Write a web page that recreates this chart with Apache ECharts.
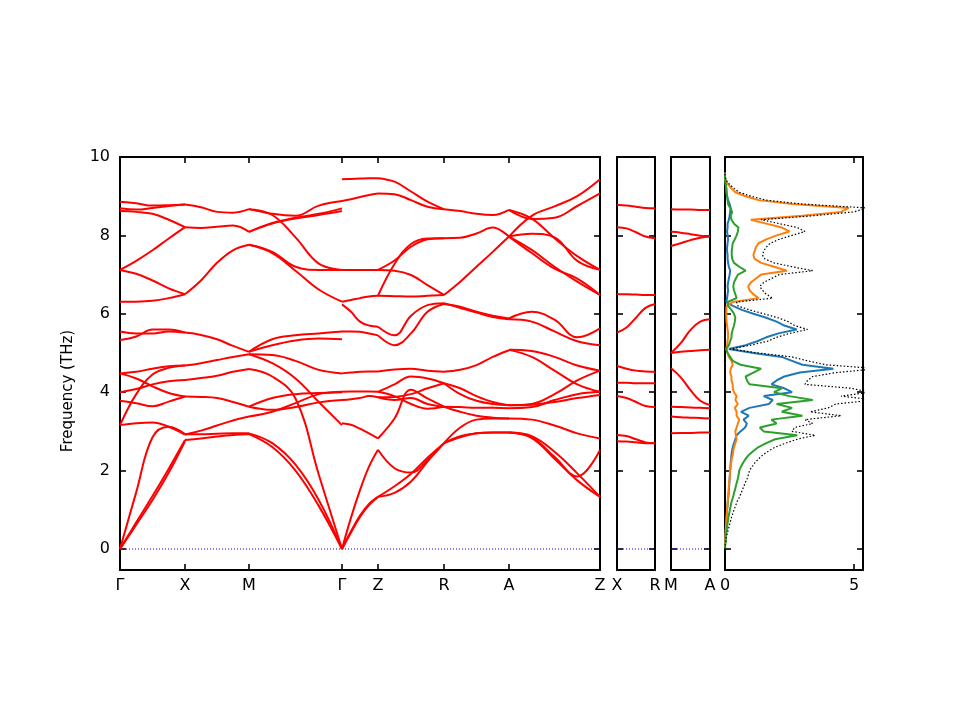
<!DOCTYPE html>
<html>
<head>
<meta charset="utf-8">
<script src="https://cdn.jsdelivr.net/npm/echarts@6/dist/echarts.min.js"></script>
<style>
  html, body { margin: 0; padding: 0; background: #fff; }
  #chart { width: 960px; height: 720px; }
</style>
</head>
<body>
<div id="chart"></div>
<script>
// k-path: labels and their positions along the path
var pathLabels = ['Γ', 'X', 'M', 'Γ', 'Z', 'R', 'A', 'Z'];
var pathTicks = [0, 65, 129, 222, 258, 324, 389, 480];
// every band segment is sampled at these fractions of the segment
var segFrac = [0, 0.25, 0.5, 0.75, 1];

// frequencies (THz) per band, one table per segment
var bandsGX = [
  [8.86, 8.82, 8.76, 8.77, 8.79], [8.69, 8.66, 8.70, 8.75, 8.79], [8.62, 8.60, 8.55, 8.40, 8.21],
  [7.12, 7.35, 7.62, 7.92, 8.21], [7.12, 7.02, 6.85, 6.65, 6.50], [6.31, 6.31, 6.33, 6.40, 6.50],
  [5.55, 5.50, 5.50, 5.55, 5.52], [5.33, 5.42, 5.60, 5.60, 5.52],
  [4.48, 4.52, 4.60, 4.66, 4.68], [4.48, 4.35, 4.15, 3.98, 3.89], [4.00, 4.08, 4.20, 4.28, 4.31],
  [3.78, 3.72, 3.64, 3.76, 3.89], [3.16, 3.95, 4.45, 4.62, 4.68], [3.16, 3.21, 3.23, 3.12, 2.92],
  [0, 1.45, 2.85, 3.12, 2.93], [0, 0.68, 1.35, 2.05, 2.78], [0, 0.62, 1.25, 1.95, 2.75]
];
var bandsXM = [
  [8.79, 8.72, 8.60, 8.58, 8.67], [8.21, 8.19, 8.22, 8.25, 8.09], [6.50, 6.85, 7.30, 7.62, 7.76],
  [5.52, 5.46, 5.35, 5.18, 5.03], [4.68, 4.74, 4.82, 4.90, 4.97], [4.31, 4.36, 4.42, 4.52, 4.59],
  [3.89, 3.88, 3.85, 3.75, 3.63], [2.92, 3.02, 3.15, 3.28, 3.38], [2.93, 2.93, 2.94, 2.95, 2.95],
  [2.78, 2.82, 2.87, 2.91, 2.93]
];
var bandsMG = [
  [8.67, 8.55, 8.50, 8.76, 8.88], [8.67, 8.52, 7.95, 7.28, 7.12], [8.09, 8.32, 8.45, 8.55, 8.69],
  [8.09, 8.30, 8.43, 8.52, 8.62], [7.76, 7.58, 7.20, 7.12, 7.12], [7.76, 7.55, 7.10, 6.62, 6.31],
  [5.03, 5.35, 5.45, 5.50, 5.55], [5.03, 5.20, 5.32, 5.37, 5.35], [4.97, 4.95, 4.80, 4.57, 4.48],
  [4.97, 4.74, 4.35, 3.75, 3.16], [4.59, 4.40, 3.84, 1.90, 0], [3.63, 3.85, 3.95, 3.98, 4.00],
  [3.38, 3.50, 3.72, 3.95, 4.01], [3.63, 3.55, 3.62, 3.74, 3.80], [2.95, 2.70, 2.15, 1.25, 0],
  [2.93, 2.60, 2.00, 1.10, 0]
];
var bandsGZ = [
  [9.43, 9.44, 9.45, 9.46, 9.46], [8.88, 8.92, 8.98, 9.03, 9.07], [7.12, 7.12, 7.12, 7.12, 7.12],
  [6.31, 6.35, 6.40, 6.44, 6.46], [6.24, 6.05, 5.80, 5.70, 5.67], [5.55, 5.55, 5.54, 5.50, 5.45],
  [4.48, 4.50, 4.52, 4.53, 4.53], [4.01, 4.02, 4.02, 4.02, 4.01], [3.80, 3.82, 3.85, 3.90, 3.87],
  [3.21, 3.17, 3.07, 2.95, 2.82], [0, 0.80, 1.50, 2.10, 2.53], [0, 0.45, 0.85, 1.15, 1.33],
  [0, 0.42, 0.82, 1.12, 1.33]
];
var bandsZR = [
  [9.46, 9.37, 9.12, 8.86, 8.67], [9.07, 9.05, 8.90, 8.73, 8.67], [7.12, 7.10, 6.99, 6.73, 6.48],
  [7.12, 7.36, 7.71, 7.90, 7.93], [6.46, 7.27, 7.78, 7.92, 7.93], [6.46, 6.45, 6.44, 6.46, 6.48],
  [5.67, 5.45, 5.95, 6.22, 6.27], [5.45, 5.20, 5.50, 6.05, 6.25], [4.53, 4.58, 4.60, 4.55, 4.52],
  [4.01, 4.20, 4.40, 4.35, 4.23], [4.01, 3.90, 3.70, 3.58, 3.63], [3.87, 3.88, 3.95, 4.10, 4.23],
  [3.87, 3.80, 3.85, 3.70, 3.63], [2.82, 3.33, 4.06, 3.84, 3.63], [2.53, 2.06, 1.95, 2.27, 2.70],
  [1.33, 1.60, 1.92, 2.33, 2.70], [1.33, 1.43, 1.72, 2.23, 2.70]
];
var bandsRA = [
  [8.67, 8.62, 8.55, 8.52, 8.65], [7.93, 7.94, 8.05, 8.20, 7.97], [6.48, 6.82, 7.20, 7.58, 7.97],
  [6.27, 6.15, 6.03, 5.92, 5.86], [6.25, 6.18, 6.05, 5.95, 5.88], [4.52, 4.57, 4.69, 4.90, 5.07],
  [4.23, 4.10, 3.90, 3.75, 3.67], [4.23, 3.95, 3.78, 3.70, 3.67], [3.63, 3.62, 3.60, 3.60, 3.59],
  [3.63, 3.50, 3.40, 3.35, 3.33], [2.70, 3.10, 3.30, 3.33, 3.33], [2.70, 2.85, 2.95, 2.97, 2.97],
  [2.70, 2.88, 2.95, 2.97, 2.97]
];
var bandsAZ = [
  [8.65, 8.42, 8.45, 8.75, 9.07], [8.65, 8.43, 7.93, 7.47, 7.12], [7.97, 8.50, 8.74, 9.00, 9.43],
  [7.97, 8.04, 7.95, 7.35, 7.12], [7.97, 7.63, 7.20, 6.82, 6.48], [7.97, 7.55, 7.15, 6.90, 6.48],
  [5.88, 6.05, 5.85, 5.40, 5.63], [5.86, 5.80, 5.55, 5.30, 5.20], [5.08, 5.05, 4.90, 4.68, 4.55],
  [5.08, 4.90, 4.55, 4.20, 4.01], [3.67, 3.70, 3.95, 4.30, 4.55], [3.67, 3.68, 3.75, 3.85, 3.93],
  [3.59, 3.62, 3.80, 3.95, 4.01], [3.33, 3.30, 3.15, 2.95, 2.82], [2.97, 2.88, 2.48, 1.93, 1.33],
  [2.97, 2.83, 2.30, 1.75, 1.33], [2.97, 2.85, 2.35, 1.85, 2.53]
];
var bandsMain = [bandsGX, bandsXM, bandsMG, bandsGZ, bandsZR, bandsRA, bandsAZ];

// side panels X-R and M-A
var xrLabels = ['X', 'R'];
var bandsXR = [
  [8.78, 8.76, 8.73, 8.70, 8.69], [8.21, 8.18, 8.08, 7.97, 7.93], [6.50, 6.50, 6.49, 6.48, 6.48],
  [5.52, 5.65, 5.90, 6.15, 6.25], [4.67, 4.60, 4.55, 4.53, 4.52], [4.24, 4.24, 4.23, 4.23, 4.23],
  [3.90, 3.85, 3.75, 3.65, 3.62], [2.91, 2.88, 2.80, 2.72, 2.70], [2.75, 2.74, 2.72, 2.70, 2.70]
];
var maLabels = ['M', 'A'];
var bandsMA = [
  [8.67, 8.66, 8.66, 8.65, 8.65], [8.09, 8.07, 8.03, 7.99, 7.97], [7.73, 7.80, 7.88, 7.94, 7.97],
  [5.00, 5.03, 5.05, 5.07, 5.08], [5.00, 5.25, 5.59, 5.80, 5.86], [4.61, 4.38, 4.05, 3.78, 3.67],
  [3.63, 3.62, 3.61, 3.60, 3.59], [3.38, 3.36, 3.35, 3.34, 3.33], [2.95, 2.96, 2.96, 2.97, 2.97]
];

// density of states
var dosFreq = [
  0.0, 0.1, 0.2, 0.3, 0.4, 0.5, 0.6, 0.7, 0.8, 0.9, 1.0, 1.1, 1.2, 1.3, 1.4, 1.5, 1.6, 1.7, 1.8, 1.9,
  2.0, 2.1, 2.2, 2.3, 2.4, 2.5, 2.6, 2.7, 2.8, 2.9, 3.0, 3.1, 3.2, 3.3, 3.4, 3.5, 3.6, 3.7, 3.8, 3.9,
  4.0, 4.1, 4.2, 4.3, 4.4, 4.5, 4.6, 4.7, 4.8, 4.9, 5.0, 5.1, 5.2, 5.3, 5.4, 5.5, 5.6, 5.7, 5.8, 5.9,
  6.0, 6.1, 6.2, 6.3, 6.4, 6.5, 6.6, 6.7, 6.8, 6.9, 7.0, 7.1, 7.2, 7.3, 7.4, 7.5, 7.6, 7.7, 7.8, 7.9,
  8.0, 8.1, 8.2, 8.3, 8.4, 8.5, 8.6, 8.7, 8.8, 8.9, 9.0, 9.1, 9.2, 9.3, 9.4, 9.5, 9.6
];
var dosBlue = [
  0, 0, 0.01, 0.01, 0.02, 0.03, 0.04, 0.05, 0.06, 0.07, 0.08, 0.1, 0.11, 0.12, 0.14, 0.15, 0.16, 0.17, 0.18, 0.19,
  0.2, 0.21, 0.22, 0.24, 0.25, 0.27, 0.3, 0.35, 0.4, 0.45, 0.6, 0.78, 0.85, 0.72, 0.92, 0.62, 0.95, 1.7, 1.85, 1.5,
  2.6, 2.3, 1.8, 2.0, 2.3, 2.9, 4.2, 3.0, 2.6, 2.2, 1.1, 0.15, 0.8, 1.25, 1.6, 2.07, 2.78, 2.3, 2.0, 1.6,
  1.1, 0.65, 0.3, 0.05, 0.08, 0.1, 0.12, 0.1, 0.12, 0.15, 0.18, 0.2, 0.15, 0.12, 0.1, 0.1, 0.08, 0.08, 0.1, 0.12,
  0.1, 0.08, 0.1, 0.1, 0.15, 0.18, 0.2, 0.22, 0.18, 0.12, 0.08, 0.06, 0.05, 0.03, 0.01, 0, 0
];
var dosOrange = [
  0, 0, 0.01, 0.01, 0.02, 0.03, 0.04, 0.05, 0.06, 0.07, 0.08, 0.09, 0.1, 0.12, 0.13, 0.14, 0.15, 0.16, 0.18, 0.19,
  0.2, 0.22, 0.24, 0.26, 0.3, 0.32, 0.35, 0.4, 0.45, 0.42, 0.4, 0.45, 0.5, 0.55, 0.45, 0.45, 0.38, 0.5, 0.4, 0.45,
  0.35, 0.3, 0.3, 0.25, 0.25, 0.2, 0.22, 0.3, 0.25, 0.15, 0.1, 0.05, 0.08, 0.1, 0.12, 0.12, 0.1, 0.08, 0.06, 0.05,
  0.05, 0.05, 0.06, 0.3, 1.3, 1.1, 0.95, 0.9, 1.0, 1.2, 1.4, 2.4, 1.9, 1.4, 1.15, 1.1, 1.15, 1.2, 1.3, 1.6,
  2.0, 2.5, 2.2, 1.6, 1.0, 3.0, 4.5, 4.8, 2.6, 1.3, 0.8, 0.4, 0.25, 0.12, 0.03, 0, 0
];
var dosGreen = [
  0, 0.01, 0.02, 0.03, 0.05, 0.07, 0.09, 0.11, 0.13, 0.16, 0.19, 0.22, 0.25, 0.3, 0.34, 0.38, 0.42, 0.46, 0.5, 0.53,
  0.55, 0.62, 0.7, 0.8, 0.92, 1.1, 1.3, 1.6, 1.94, 2.8, 1.5, 1.35, 2.0, 1.8, 3.0, 2.2, 2.6, 2.0, 3.4, 2.5,
  1.9, 2.2, 0.95, 0.85, 0.8, 1.1, 1.4, 0.6, 0.3, 0.2, 0.1, 0.05, 0.15, 0.2, 0.25, 0.26, 0.3, 0.35, 0.38, 0.4,
  0.35, 0.25, 0.12, 0.1, 0.45, 0.4, 0.35, 0.32, 0.35, 0.42, 0.5, 0.8, 0.55, 0.35, 0.28, 0.26, 0.26, 0.28, 0.3, 0.38,
  0.45, 0.5, 0.52, 0.35, 0.25, 0.22, 0.28, 0.2, 0.12, 0.1, 0.08, 0.06, 0.05, 0.03, 0.01, 0, 0
];
var dosTotal = [
  0, 0.01, 0.04, 0.05, 0.09, 0.13, 0.17, 0.21, 0.25, 0.3, 0.35, 0.41, 0.46, 0.54, 0.61, 0.67, 0.73, 0.79, 0.86, 0.91,
  0.95, 1.05, 1.16, 1.3, 1.47, 1.69, 1.95, 2.35, 2.8, 3.5, 2.6, 2.7, 3.4, 3.1, 4.5, 3.3, 4.0, 4.3, 5.8, 4.5,
  5.6, 4.9, 3.1, 3.2, 3.4, 4.3, 5.9, 3.9, 3.2, 2.6, 1.3, 0.2, 1.0, 1.65, 2.0, 2.5, 3.2, 2.7, 2.45, 2.05,
  1.5, 0.95, 0.5, 0.45, 1.85, 1.6, 1.45, 1.35, 1.5, 1.8, 2.1, 3.4, 2.6, 1.9, 1.55, 1.45, 1.5, 1.6, 1.75, 2.1,
  2.6, 3.1, 2.8, 2.1, 1.4, 3.4, 5.0, 5.5, 3.0, 1.6, 1.0, 0.55, 0.35, 0.18, 0.05, 0, 0
];

var freqTicks = [0, 2, 4, 6, 8, 10];
var dosTicks = [0, 5];
var freqMin = -0.536, freqMax = 10;

var chart = echarts.init(document.getElementById('chart'));

var FONT = 'DejaVu Sans';
var frame = { show: true, onZero: false, lineStyle: { color: '#000', width: 2 } };

// the four panels
var grids = [
  { left: 120, top: 157, width: 480, height: 413 },
  { left: 617, top: 157, width: 38, height: 413 },
  { left: 671, top: 157, width: 39, height: 413 },
  { left: 725, top: 157, width: 138, height: 413 }
];

function xPair(gi, min, max, ticks, fmt) {
  var tick = { show: true, inside: true, length: 6, customValues: ticks, lineStyle: { color: '#000', width: 1.6 } };
  return [
    { type: 'value', gridIndex: gi, min: min, max: max, position: 'bottom', axisLine: frame,
      axisTick: tick, splitLine: { show: false },
      axisLabel: { show: true, customValues: ticks, formatter: fmt, margin: 8, showMinLabel: true, showMaxLabel: true,
        color: '#000', fontFamily: FONT, fontSize: 16 } },
    { type: 'value', gridIndex: gi, min: min, max: max, position: 'top', axisLine: frame,
      axisTick: tick, splitLine: { show: false }, axisLabel: { show: false } }
  ];
}
function yPair(gi, showLabel) {
  var tick = { show: true, inside: true, length: 6, customValues: freqTicks, lineStyle: { color: '#000', width: 1.6 } };
  return [
    { type: 'value', gridIndex: gi, min: freqMin, max: freqMax, position: 'left', axisLine: frame,
      axisTick: tick, splitLine: { show: false },
      axisLabel: { show: showLabel, customValues: freqTicks, margin: 10, color: '#000', fontFamily: FONT, fontSize: 16 } },
    { type: 'value', gridIndex: gi, min: freqMin, max: freqMax, position: 'right', axisLine: frame,
      axisTick: tick, splitLine: { show: false }, axisLabel: { show: false } }
  ];
}

var xAxes = [].concat(
  xPair(0, 0, 480, pathTicks, function (v) { return pathLabels[pathTicks.indexOf(v)]; }),
  xPair(1, 0, 1, [0, 1], function (v) { return xrLabels[v]; }),
  xPair(2, 0, 1, [0, 1], function (v) { return maLabels[v]; }),
  xPair(3, 0, 5.35, dosTicks, function (v) { return String(v); })
);
var yAxes = [].concat(yPair(0, true), yPair(1, false), yPair(2, false), yPair(3, false));

function bandSeries(bands, x0, x1, axisIdx) {
  return bands.map(function (b) {
    return {
      type: 'line', xAxisIndex: axisIdx, yAxisIndex: axisIdx, silent: true,
      symbol: 'none', smooth: 0.4, lineStyle: { color: '#ff0000', width: 2 },
      data: b.map(function (f, i) { return [x0 + segFrac[i] * (x1 - x0), f]; })
    };
  });
}
function zeroLine(axisIdx, x1) {
  return {
    type: 'line', xAxisIndex: axisIdx, yAxisIndex: axisIdx, silent: true, symbol: 'none',
    lineStyle: { color: '#0000ff', width: 1, type: [1, 2] },
    data: [[0, 0], [x1, 0]]
  };
}
function dosSeries(vals, color, dashed) {
  return {
    type: 'line', xAxisIndex: 6, yAxisIndex: 6, silent: true, symbol: 'none',
    lineStyle: dashed ? { color: '#000', width: 1.2, type: [1.5, 2] } : { color: color, width: 2 },
    data: vals.map(function (d, i) { return [d, dosFreq[i]]; })
  };
}

var series = [zeroLine(0, 480), zeroLine(2, 1), zeroLine(4, 1)];
bandsMain.forEach(function (seg, s) {
  series = series.concat(bandSeries(seg, pathTicks[s], pathTicks[s + 1], 0));
});
series = series.concat(bandSeries(bandsXR, 0, 1, 2));
series = series.concat(bandSeries(bandsMA, 0, 1, 4));
series.push(dosSeries(dosBlue, '#1f77b4'));
series.push(dosSeries(dosOrange, '#ff7f0e'));
series.push(dosSeries(dosGreen, '#2ca02c'));
series.push(dosSeries(dosTotal, '#000', true));

chart.setOption({
  animation: false,
  backgroundColor: '#fff',
  grid: grids,
  xAxis: xAxes,
  yAxis: yAxes,
  series: series,
  graphic: [{
    type: 'text', x: 68, y: 391, rotation: Math.PI / 2,
    style: { text: 'Frequency (THz)', fill: '#000', font: '15px "DejaVu Sans"', align: 'center', verticalAlign: 'middle' }
  }]
});
</script>
</body>
</html>
